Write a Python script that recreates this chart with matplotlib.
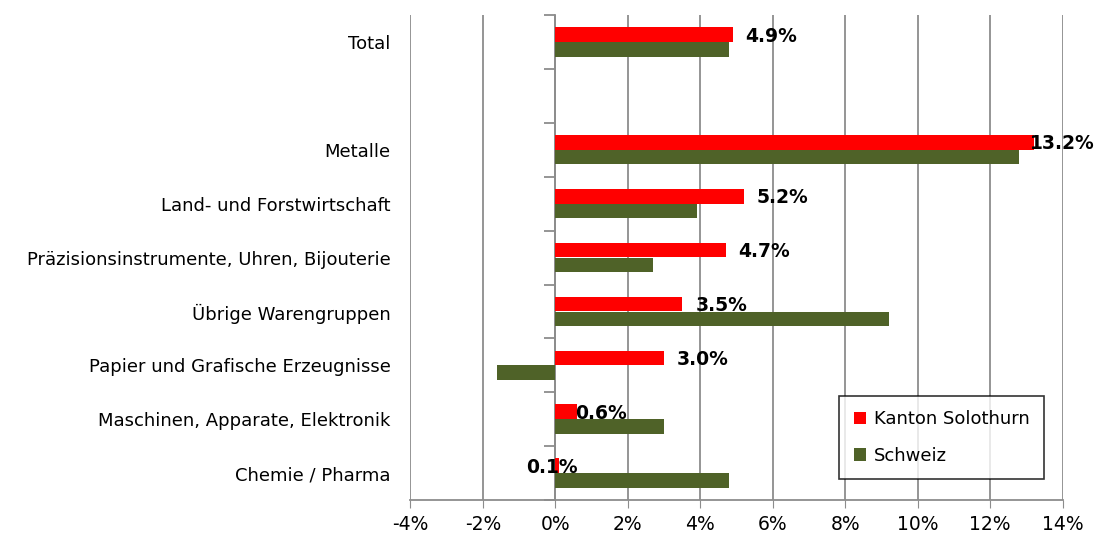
import numpy as np
import matplotlib.pyplot as plt
from matplotlib.ticker import FuncFormatter

# Data (bottom to top, Total at the top after a gap)
categories = ["Chemie / Pharma", "Maschinen, Apparate, Elektronik",
              "Papier und Grafische Erzeugnisse", "Übrige Warengruppen",
              "Präzisionsinstrumente, Uhren, Bijouterie",
              "Land- und Forstwirtschaft", "Metalle", "Total"]
solothurn = [0.1, 0.6, 3.0, 3.5, 4.7, 5.2, 13.2, 4.9]
schweiz = [4.8, 3.0, -1.6, 9.2, 2.7, 3.9, 12.8, 4.8]
label_texts = ["0.1%", "0.6%", "3.0%", "3.5%", "4.7%", "5.2%", "13.2%", "4.9%"]

red = "#FF0000"
green = "#4F6228"
gridc = "#8C8C8C"

# slot positions, leave one empty slot between Metalle and Total
ypos = np.array(list(range(7)) + [8])
h = 0.27

fig = plt.figure(figsize=(11, 5.43), dpi=100)
ax = fig.add_axes([0.373, 0.079, 0.593, 0.893])

ax.barh(ypos + 0.14, solothurn, height=h, color=red, label="Kanton Solothurn", zorder=3)
ax.barh(ypos - 0.135, schweiz, height=h, color=green, label="Schweiz", zorder=3)

# data labels (Excel-style placement, some shifted)
label_shift = [-0.9, -0.05, 0.35, 0.38, 0.35, 0.35, -0.1, 0.35]
for y, v, t, s in zip(ypos, solothurn, label_texts, label_shift):
    ax.text(v + s, y + 0.11, t, va="center", ha="left", fontsize=13.5,
            fontweight="bold", color="black", zorder=4)

ax.set_xlim(-4, 14)
ax.set_ylim(-0.5, 8.5)
ax.set_xticks(np.arange(-4, 15, 2))
ax.xaxis.set_major_formatter(FuncFormatter(lambda x, p: f"{x:.0f}%"))
ax.tick_params(axis="x", labelsize=13.5, length=6, color=gridc, pad=5)

ax.set_yticks(ypos)
ax.set_yticklabels(categories, fontsize=13)
ax.tick_params(axis="y", length=0, pad=14)

ax.grid(axis="x", color=gridc, linewidth=1.3, zorder=0)
for s in ["top", "right", "left"]:
    ax.spines[s].set_visible(False)
ax.spines["bottom"].set_color(gridc)
ax.spines["bottom"].set_linewidth(1.3)

# category axis drawn at 0%
sec = ax.secondary_yaxis(4 / 18)
sec.set_yticks(np.arange(-0.5, 9, 1))
sec.set_yticklabels([])
sec.spines["left"].set_color(gridc)
sec.spines["left"].set_linewidth(1.3)
sec.tick_params(axis="y", length=8, color=gridc, width=1.3)

leg = ax.legend(loc="lower right", bbox_to_anchor=(0.985, 0.025), fontsize=13,
                frameon=True, fancybox=False, edgecolor="black", handlelength=0.7,
                handleheight=0.7, handletextpad=0.4, labelspacing=1.0,
                borderpad=0.8)
leg.get_frame().set_linewidth(1.2)

plt.savefig("out.png", dpi=100)
